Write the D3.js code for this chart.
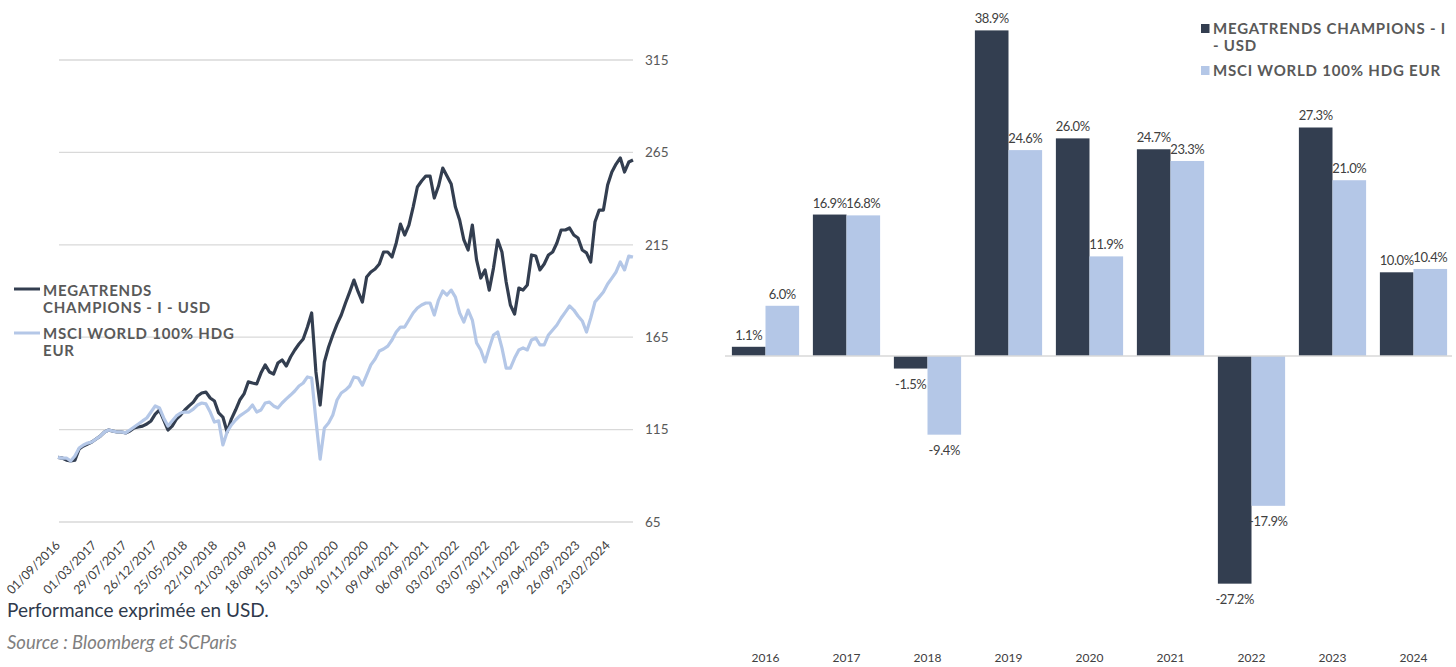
<!DOCTYPE html>
<html>
<head>
<meta charset="utf-8">
<script src="https://cdn.jsdelivr.net/npm/d3@7"></script>
<style>
  body { margin: 0; background: #fff; }
  text { font-family: Lato, "Open Sans", sans-serif; }
</style>
</head>
<body>
<svg></svg>
<script>
// ---- line chart data (base 100, one reading every 3 weeks) ----
const startDate = new Date(2016, 8, 1)
const stepDays = 21

const megatrends = [
  100.0, 99.6, 98.5, 98.0, 98.5, 104.5, 106.1, 107.2, 108.3, 109.9,
  111.5, 113.7, 114.8, 114.2, 113.7, 113.7, 113.2, 114.2, 115.9, 116.4,
  116.9, 118.0, 119.7, 123.4, 125.6, 120.2, 114.8, 116.9, 120.7, 122.9,
  125.6, 127.8, 129.9, 133.2, 134.8, 135.3, 132.1, 130.5, 124.0, 121.8,
  113.7, 120.7, 125.6, 131.0, 134.3, 140.8, 140.2, 139.7, 145.6, 150.0,
  146.2, 145.1, 151.0, 152.7, 149.4, 154.3, 158.1, 161.3, 164.0, 170.5,
  178.1, 146.2, 128.3, 151.6, 159.7, 166.2, 172.1, 177.0, 183.5, 189.5,
  195.9, 189.5, 184.0, 197.6, 200.3, 201.9, 204.6, 211.1, 211.1, 208.4,
  216.0, 226.2, 220.3, 225.7, 235.4, 246.3, 249.5, 252.2, 252.2, 240.3,
  246.8, 256.5, 252.2, 247.9, 235.4, 228.4, 217.6, 212.2, 225.7, 206.8,
  197.0, 201.4, 190.5, 202.4, 217.6, 211.1, 194.9, 182.4, 177.5, 191.6,
  190.5, 193.2, 209.5, 208.9, 201.4, 204.6, 209.5, 211.1, 216.0, 223.0,
  223.0, 224.1, 220.3, 218.7, 212.2, 210.6, 205.7, 227.3, 233.8, 233.8,
  247.4, 254.4, 258.7, 262.0, 254.4, 259.8, 260.9
]

const msciWorld = [
  100.0, 99.6, 99.6, 98.0, 100.7, 105.0, 106.7, 107.7, 108.3, 109.9,
  111.5, 113.7, 114.8, 114.2, 113.7, 113.7, 113.2, 114.8, 116.4, 118.0,
  119.7, 121.3, 124.5, 127.8, 126.7, 121.3, 116.9, 119.7, 122.4, 124.0,
  124.5, 124.5, 126.1, 128.3, 129.4, 128.9, 124.5, 119.1, 119.7, 106.7,
  113.7, 117.5, 120.2, 122.4, 124.0, 125.6, 128.3, 124.5, 125.6, 129.4,
  129.9, 127.8, 126.7, 129.4, 131.6, 133.7, 135.9, 138.6, 140.2, 143.5,
  142.9, 120.2, 99.0, 115.9, 118.6, 122.9, 131.0, 134.8, 136.4, 138.6,
  143.5, 142.9, 139.1, 144.5, 150.0, 153.2, 157.5, 158.6, 160.2, 163.5,
  167.8, 170.5, 170.5, 174.3, 178.1, 180.8, 182.4, 183.5, 183.5, 177.0,
  185.1, 190.0, 187.8, 190.5, 186.7, 178.1, 173.2, 179.7, 174.3, 161.9,
  158.1, 151.6, 159.2, 166.2, 167.8, 159.2, 148.3, 148.3, 153.7, 158.1,
  159.2, 158.1, 163.5, 164.6, 160.8, 160.8, 166.2, 168.9, 171.6, 175.4,
  178.6, 181.9, 179.7, 176.5, 173.8, 167.8, 175.4, 184.0, 186.7, 189.5,
  193.8, 197.0, 200.3, 205.7, 201.4, 208.9, 208.4
]

const dateTicks = [
  '01/09/2016', '01/03/2017', '29/07/2017', '26/12/2017', '25/05/2018',
  '22/10/2018', '21/03/2019', '18/08/2019', '15/01/2020', '13/06/2020',
  '10/11/2020', '09/04/2021', '06/09/2021', '03/02/2022', '03/07/2022',
  '30/11/2022', '29/04/2023', '26/09/2023', '23/02/2024'
]
const valueTicks = [65, 115, 165, 215, 265, 315]

// ---- bar chart data (yearly performance, %) ----
const years = ['2016', '2017', '2018', '2019', '2020', '2021', '2022', '2023', '2024']
const megatrendsYearly = [1.1, 16.9, -1.5, 38.9, 26.0, 24.7, -27.2, 27.3, 10.0]
const msciYearly = [6.0, 16.8, -9.4, 24.6, 11.9, 23.3, -17.9, 21.0, 10.4]

const darkColor = '#333e50'
const lightColor = '#b4c7e7'
const gridColor = '#d9d9d9'
const textGray = '#595959'

const width = 1456
const height = 667

const svg = d3.select('svg')
  .attr('width', width)
  .attr('height', height)

// ================= LINE CHART =================
const parseTick = d3.timeParse('%d/%m/%Y')
const dates = megatrends.map((v, i) => d3.timeDay.offset(startDate, i * stepDays))

const xTime = d3.scaleTime()
  .domain([startDate, dates[dates.length - 1]])
  .range([58, 633])

const yValue = d3.scaleLinear()
  .domain([65, 315])
  .range([522, 60])

// horizontal grid lines
svg.append('g')
  .selectAll('line')
  .data(valueTicks)
  .enter()
  .append('line')
  .attr('x1', 59)
  .attr('x2', 633)
  .attr('y1', d => yValue(d))
  .attr('y2', d => yValue(d))
  .attr('stroke', gridColor)
  .attr('stroke-width', 1.3)

// right value axis
const yAxis = svg.append('g')
  .attr('transform', 'translate(633,0)')
  .call(d3.axisRight(yValue).tickValues(valueTicks).tickSize(0).tickPadding(12))
yAxis.select('.domain').remove()
yAxis.selectAll('text')
  .attr('font-size', 13.5)
  .attr('fill', textGray)
  .attr('font-family', 'Lato, sans-serif')

// rotated date labels
svg.append('g')
  .selectAll('text')
  .data(dateTicks)
  .enter()
  .append('text')
  .attr('transform', d => `translate(${xTime(parseTick(d)) + 3}, 546) rotate(-45)`)
  .attr('text-anchor', 'end')
  .attr('font-size', 12.5)
  .attr('fill', '#404040')
  .text(d => d)

const line = d3.line()
  .x((v, i) => xTime(dates[i]))
  .y(v => yValue(v))

svg.append('path')
  .datum(megatrends)
  .attr('d', line)
  .attr('fill', 'none')
  .attr('stroke', darkColor)
  .attr('stroke-width', 3.2)
  .attr('stroke-linejoin', 'round')

svg.append('path')
  .datum(msciWorld)
  .attr('d', line)
  .attr('fill', 'none')
  .attr('stroke', lightColor)
  .attr('stroke-width', 3.2)
  .attr('stroke-linejoin', 'round')

// left legend
const legendLeft = svg.append('g')
  .attr('font-weight', 'bold')
  .attr('font-size', 15)
  .attr('fill', textGray)
  .attr('letter-spacing', 0.8)

legendLeft.append('line')
  .attr('x1', 14).attr('x2', 40).attr('y1', 289).attr('y2', 289)
  .attr('stroke', darkColor).attr('stroke-width', 3)
legendLeft.append('text').attr('x', 43).attr('y', 296).text('MEGATRENDS')
legendLeft.append('text').attr('x', 43).attr('y', 313).text('CHAMPIONS - I - USD')

legendLeft.append('line')
  .attr('x1', 14).attr('x2', 40).attr('y1', 333).attr('y2', 333)
  .attr('stroke', lightColor).attr('stroke-width', 3)
legendLeft.append('text').attr('x', 43).attr('y', 339).text('MSCI WORLD 100% HDG')
legendLeft.append('text').attr('x', 43).attr('y', 356).text('EUR')

// footnotes
svg.append('text')
  .attr('x', 7)
  .attr('y', 617)
  .attr('font-size', 19)
  .attr('fill', '#2f3a4c')
  .text('Performance exprimée en USD.')

svg.append('text')
  .attr('x', 7)
  .attr('y', 649)
  .attr('font-size', 18.5)
  .attr('font-style', 'italic')
  .attr('fill', '#7f7f7f')
  .text('Source : Bloomberg et SCParis')

// ================= BAR CHART =================
const xYear = d3.scaleBand()
  .domain(years)
  .range([725, 1454])
  .paddingInner(0.17)
  .paddingOuter(0.085)

const xSeries = d3.scaleBand()
  .domain(['megatrends', 'msci'])
  .range([0, xYear.bandwidth()])

const yPct = d3.scaleLinear()
  .domain([-35, 40])
  .range([356 + 35 * 8.37, 356 - 40 * 8.37])

const barRows = years.map((y, i) => ({
  year: y,
  items: [
    { key: 'megatrends', value: megatrendsYearly[i], color: darkColor },
    { key: 'msci', value: msciYearly[i], color: lightColor }
  ]
}))

const groups = svg.append('g')
  .selectAll('g')
  .data(barRows)
  .enter()
  .append('g')
  .attr('transform', d => `translate(${xYear(d.year)},0)`)

groups.selectAll('rect')
  .data(d => d.items)
  .enter()
  .append('rect')
  .attr('x', d => xSeries(d.key))
  .attr('y', d => yPct(Math.max(0, d.value)))
  .attr('width', xSeries.bandwidth())
  .attr('height', d => Math.abs(yPct(d.value) - yPct(0)))
  .attr('fill', d => d.color)

// zero line
svg.append('line')
  .attr('x1', 725)
  .attr('x2', 1452)
  .attr('y1', yPct(0))
  .attr('y2', yPct(0))
  .attr('stroke', gridColor)
  .attr('stroke-width', 1.5)

// value labels
groups.selectAll('text')
  .data(d => d.items)
  .enter()
  .append('text')
  .attr('x', d => xSeries(d.key) + xSeries.bandwidth() / 2)
  .attr('y', d => d.value >= 0 ? yPct(d.value) - 7 : yPct(d.value) + 20)
  .attr('text-anchor', 'middle')
  .attr('font-size', 13)
  .attr('letter-spacing', -0.4)
  .attr('fill', '#404040')
  .text(d => d.value.toFixed(1) + '%')

// year labels
svg.append('g')
  .selectAll('text')
  .data(years)
  .enter()
  .append('text')
  .attr('x', d => xYear(d) + xYear.bandwidth() / 2)
  .attr('y', 662)
  .attr('text-anchor', 'middle')
  .attr('font-size', 12)
  .attr('fill', '#404040')
  .text(d => d)

// bar legend
const legendRight = svg.append('g')
  .attr('font-weight', 'bold')
  .attr('font-size', 15)
  .attr('fill', textGray)
  .attr('letter-spacing', 0.8)

legendRight.append('rect')
  .attr('x', 1201).attr('y', 24).attr('width', 8.5).attr('height', 9)
  .attr('fill', darkColor)
legendRight.append('text').attr('x', 1213).attr('y', 34).text('MEGATRENDS CHAMPIONS - I')
legendRight.append('text').attr('x', 1213).attr('y', 51).text('- USD')

legendRight.append('rect')
  .attr('x', 1201).attr('y', 66).attr('width', 8.5).attr('height', 9)
  .attr('fill', lightColor)
legendRight.append('text').attr('x', 1213).attr('y', 76).text('MSCI WORLD 100% HDG EUR')
</script>
</body>
</html>
